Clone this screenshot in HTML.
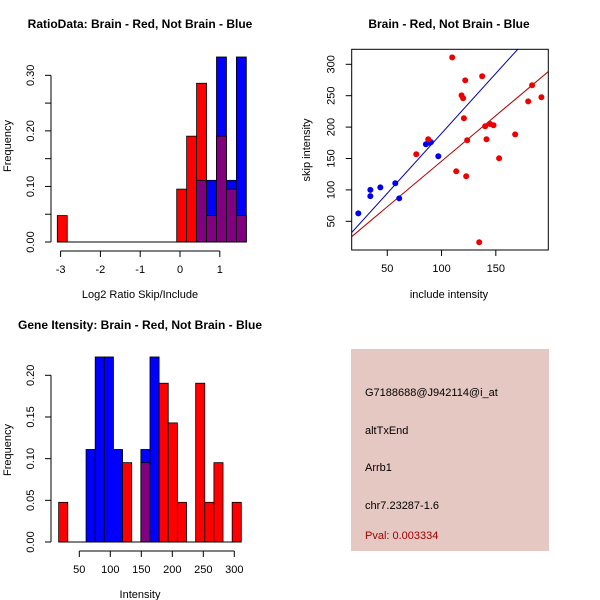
<!DOCTYPE html>
<html><head><meta charset="utf-8"><style>
body{margin:0;background:#fff}
svg{display:block;font-family:"Liberation Sans",Arial,sans-serif}
</style></head><body>
<svg id="s" width="600" height="600" viewBox="0 0 600 600">
<rect width="600" height="600" fill="#fff"/>
<text x="140" y="28" font-size="12" font-weight="bold" text-anchor="middle">RatioData: Brain - Red, Not Brain - Blue</text>
<text x="449" y="28" font-size="12" font-weight="bold" text-anchor="middle">Brain - Red, Not Brain - Blue</text>
<text x="140" y="329" font-size="12" font-weight="bold" text-anchor="middle">Gene Itensity: Brain - Red, Not Brain - Blue</text>
<text x="140" y="298" font-size="11" text-anchor="middle">Log2 Ratio Skip/Include</text>
<text x="449" y="298" font-size="11" text-anchor="middle">include intensity</text>
<text x="140" y="598" font-size="11" text-anchor="middle">Intensity</text>
<text transform="translate(11,146) rotate(-90)" font-size="11" text-anchor="middle">Frequency</text>
<text transform="translate(310,150) rotate(-90)" font-size="11" text-anchor="middle">skip intensity</text>
<text transform="translate(11,450) rotate(-90)" font-size="11" text-anchor="middle">Frequency</text>
<g>
<rect x="351" y="349" width="198" height="202" fill="#e6c8c2"/>
<text x="365" y="396" font-size="11">G7188688@J942114@i_at</text>
<text x="365" y="434" font-size="11">altTxEnd</text>
<text x="365" y="471" font-size="11">Arrb1</text>
<text x="365" y="509" font-size="11">chr7.23287-1.6</text>
<text x="365" y="539" font-size="11" fill="#a00000">Pval: 0.003334</text>
</g>
</svg>
<script>
// Ratio histogram data
const ratioBinStart = -3.083, ratioBinWidth = 0.25;
const ratioRed = [0.0476,0,0,0,0,0,0,0,0,0,0,0,0.0952,0.1905,0.2857,0.0476,0.1905,0.0952,0.0476];
const ratioBlue = [0,0,0,0,0,0,0,0,0,0,0,0,0,0,0.111,0.111,0.333,0.111,0.333];
const ratioXTicks = [-3,-2,-1,0,1];
const ratioYTicks = [0,0.05,0.10,0.15,0.20,0.25,0.30];
const ratioYLabels = ["0.00","","0.10","","0.20","","0.30"];
// Scatter data
const blueX = [23.3,34.4,34.4,43.6,57.4,61,85.6,88.7,90.2,97];
const blueY = [62.7,100,90,104,110.5,86.6,172.6,175,176,153.5];
const redX = [76.7,87.7,109.8,118.4,119.9,121.8,120.6,123.6,113.5,122.7,137.4,134.7,140.2,141.4,144.8,147.9,153,167.8,179.8,183.4,192];
const redY = [156.7,180.6,311,250.6,245.9,274.5,214,179,129.6,121.7,280.9,16.6,201.3,180.6,205,202.9,150.3,188.5,241,266.6,247.5];
const blueFit = [-0.8,1.908];
const redFit = [0.6,1.451];
const scatXTicks = [50,100,150];
const scatYTicks = [50,100,150,200,250,300];
// Intensity histogram data
const intBinStart = 16.7, intBinWidth = 14.73;
const intRed = [0.0476,0,0,0,0,0,0,0.0952,0,0.0952,0,0.1905,0.1429,0.0476,0,0.1905,0.0476,0.0952,0,0.0476];
const intBlue = [0,0,0,0.111,0.222,0.222,0.111,0,0,0.111,0.222,0,0,0,0,0,0,0,0,0];
const intXTicks = [50,100,150,200,250,300];
const intYTicks = [0,0.05,0.10,0.15,0.20];
const intYLabels = ["0.00","0.05","0.10","0.15","0.20"];

const S = document.getElementById('s');
const NS = 'http://www.w3.org/2000/svg';
function el(tag, attrs, parent){const e=document.createElementNS(NS,tag);for(const k in attrs)e.setAttribute(k,attrs[k]);(parent||S).appendChild(e);return e;}

function hist(prefix, g, bs, bw, red, blue, sx, sy){
  for(let i=0;i<red.length;i++){
    const x0=sx(bs+i*bw), x1=sx(bs+(i+1)*bw);
    const r=red[i], b=blue[i];
    const hi=Math.max(r,b), lo=Math.min(r,b);
    if(hi<=0) continue;
    const top=el('rect',{x:x0,y:sy(hi),width:x1-x0,height:sy(0)-sy(hi),fill:r>=b?'#ff0000':'#0000ff',stroke:'#000','stroke-width':0.8},g);
    
    
    if(lo>0){
      const p=el('rect',{x:x0,y:sy(lo),width:x1-x0,height:sy(0)-sy(lo),fill:'#800080',stroke:'#000','stroke-width':0.8},g);
      
      
    }
  }
  const x0=sx(bs), x1=sx(bs+red.length*bw);
  el('line',{x1:x0,x2:x1,y1:sy(0),y2:sy(0),stroke:'#000'},g);
}
function xAxis(g, ticks, sx, y, labels){
  el('line',{x1:sx(ticks[0]),x2:sx(ticks[ticks.length-1]),y1:y,y2:y,stroke:'#000'},g);
  ticks.forEach((t,i)=>{
    el('line',{x1:sx(t),x2:sx(t),y1:y,y2:y+6,stroke:'#000'},g);
    const tx=el('text',{x:sx(t),y:y+22,'font-size':11,'text-anchor':'middle'},g);
    tx.textContent=labels?labels[i]:String(t);
  });
}
function yAxis(g, ticks, sy, x, labels){
  el('line',{x1:x,x2:x,y1:sy(ticks[0]),y2:sy(ticks[ticks.length-1]),stroke:'#000'},g);
  ticks.forEach((t,i)=>{
    el('line',{x1:x,x2:x-6,y1:sy(t),y2:sy(t),stroke:'#000'},g);
    const l=labels?labels[i]:String(t);
    if(l){const tx=el('text',{'font-size':11,'text-anchor':'middle',transform:`translate(${x-17},${sy(t)}) rotate(-90)`},g);tx.textContent=l;}
  });
}

// Panel 1
{
  const g=el('g',{});
  
  
  const sx=v=>180+v*39.8, sy=v=>242-v*555.6;
  hist('ratio',g,ratioBinStart,ratioBinWidth,ratioRed,ratioBlue,sx,sy);
  xAxis(g,ratioXTicks,sx,251);
  yAxis(g,ratioYTicks,sy,51,ratioYLabels);
}
// Panel 2
{
  const g=el('g',{});
  
  
  const sx=v=>333+v*1.0855, sy=v=>252.7-v*0.628;
  const L=351.7,R=548.3,T=49.3,B=250;
  el('defs',{}).innerHTML='<clipPath id="cp"><rect x="351.7" y="49.3" width="196.6" height="200.7"/></clipPath>';
  const lg=el('g',{'clip-path':'url(#cp)'},g);
  [[blueFit,'#0000b0','blue-fit-line'],[redFit,'#b00000','red-fit-line']].forEach(([f,c,n])=>{
    const xa=0,xb=250;
    const ln=el('line',{x1:sx(xa),y1:sy(f[0]+f[1]*xa),x2:sx(xb),y2:sy(f[0]+f[1]*xb),stroke:c,'stroke-width':1},lg);
    
    
  });
  blueX.forEach((x,i)=>{const c=el('circle',{cx:sx(x),cy:sy(blueY[i]),r:3,fill:'#0000ee'},g);
    
    });
  redX.forEach((x,i)=>{const c=el('circle',{cx:sx(x),cy:sy(redY[i]),r:3,fill:'#ee0000'},g);
    
    });
  el('rect',{x:L,y:T,width:R-L,height:B-T,fill:'none',stroke:'#000'},g);
  scatXTicks.forEach(t=>{el('line',{x1:sx(t),x2:sx(t),y1:B,y2:B+6,stroke:'#000'},g);
    const tx=el('text',{x:sx(t),y:B+22,'font-size':11,'text-anchor':'middle'},g);tx.textContent=t;});
  scatYTicks.forEach(t=>{el('line',{x1:L,x2:L-6,y1:sy(t),y2:sy(t),stroke:'#000'},g);
    const tx=el('text',{'font-size':11,'text-anchor':'middle',transform:`translate(${L-17},${sy(t)}) rotate(-90)`},g);tx.textContent=t;});
}
// Panel 3
{
  const g=el('g',{});
  
  
  const sx=v=>48.3+v*0.62, sy=v=>542-v*833.5;
  hist('intensity',g,intBinStart,intBinWidth,intRed,intBlue,sx,sy);
  xAxis(g,intXTicks,sx,551);
  yAxis(g,intYTicks,sy,51,intYLabels);
}
</script>
</body></html>
